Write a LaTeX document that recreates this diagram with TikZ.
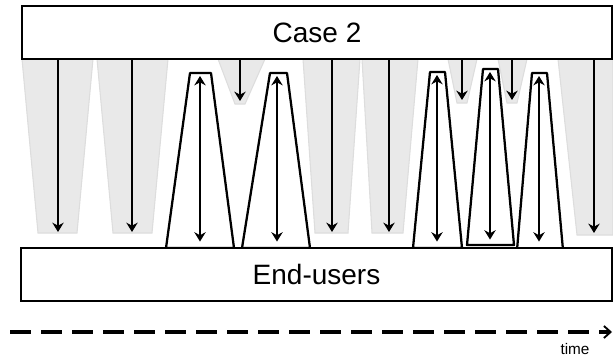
\documentclass[tikz,border=0pt]{standalone}
\usepackage{fontspec}
\setmainfont{Liberation Sans}
\usetikzlibrary{arrows.meta,backgrounds}

\begin{document}
\begin{tikzpicture}[x=0.75pt,y=-0.75pt,
        panel/.style={draw=black, fill=white, line width=1.7pt, inner sep=0pt,
            minimum height=39.75pt, font=\fontsize{21}{25}\selectfont},
        funnel/.style={fill=gray!17, draw=gray!27, line width=0.8pt},
        slot/.style={draw=black, fill=white, line width=1.7pt, line join=round},
        down/.style={-{Stealth[length=7pt,width=8.5pt]}, line width=1.4pt},
        both/.style={{Stealth[length=7pt,width=8.5pt]}-{Stealth[length=7pt,width=8.5pt]}, line width=1.4pt},
        axis/.style={line width=2.6pt, dash pattern=on 15.75pt off 7.5pt,
            -{Straight Barb[length=5pt,width=9pt,line width=1.4pt]}}]

    \useasboundingbox (0,0) rectangle (613,357);

    \node[panel, minimum width=442.5pt] (case) at (317,32.5) {Case 2};
    \node[panel, minimum width=443.25pt] (ends) at (316.5,274.5) {End-users};

    \begin{pgfonlayer}{background}
        % downward flows
        \filldraw[funnel] (22,59) -- (93,59) -- (77,233) -- (38,233) -- cycle;
        \filldraw[funnel] (97,59) -- (168,59) -- (152,233) -- (113,233) -- cycle;
        \filldraw[funnel] (218,59) -- (265,59) -- (245,104) -- (235,104) -- cycle;
        \filldraw[funnel] (303,59) -- (360,59) -- (348,233) -- (315,233) -- cycle;
        \filldraw[funnel] (362,59) -- (418,59) -- (403,233) -- (372,233) -- cycle;
        \filldraw[funnel] (448,59) -- (477,59) -- (467,103) -- (457,103) -- cycle;
        \filldraw[funnel] (498,59) -- (527,59) -- (517,103) -- (507,103) -- cycle;
        \filldraw[funnel] (558,59) -- (613,59) -- (613,235) -- (577,235) -- cycle;

        \coordinate (f1) at (58,232);
        \coordinate (f2) at (132,232);
        \coordinate (f3) at (240,101);
        \coordinate (f4) at (332,232);
        \coordinate (f5) at (389,232);
        \coordinate (f6) at (462,100);
        \coordinate (f7) at (512,100);
        \coordinate (f8) at (594,233);

        \draw[down] (case.south -| f1) -- (f1);
        \draw[down] (case.south -| f2) -- (f2);
        \draw[down] (case.south -| f3) -- (f3);
        \draw[down] (case.south -| f4) -- (f4);
        \draw[down] (case.south -| f5) -- (f5);
        \draw[down] (case.south -| f6) -- (f6);
        \draw[down] (case.south -| f7) -- (f7);
        \draw[down] (case.south -| f8) -- (f8);

        % two-way exchanges
        \draw[slot] (166,248) -- (190,73) -- (211,73) -- (234,248) -- cycle;
        \draw[slot] (242,248) -- (270,73) -- (287,73) -- (310,248) -- cycle;
        \draw[slot] (413,248) -- (430,72) -- (445,72) -- (462,248) -- cycle;
        \draw[slot] (467,245) -- (483,69) -- (498,69) -- (514,245) -- cycle;
        \draw[slot] (517,250) -- (532,73) -- (547,73) -- (563,250) -- cycle;

        \coordinate (u1) at (200,76);
        \coordinate (u2) at (277,76);
        \coordinate (u3) at (437,75);
        \coordinate (u4) at (490,72);
        \coordinate (u5) at (539,76);

        \draw[both] (u1) -- ([yshift=4pt]u1 |- ends.north);
        \draw[both] (u2) -- ([yshift=4pt]u2 |- ends.north);
        \draw[both] (u3) -- ([yshift=4pt]u3 |- ends.north);
        \draw[both] (u4) -- ([yshift=5.5pt]u4 |- ends.north);
        \draw[both] (u5) -- ([yshift=4pt]u5 |- ends.north);
    \end{pgfonlayer}

    % time axis
    \coordinate (t0) at (10,332);
    \coordinate (t1) at (612,332);
    \draw[axis] (t0) -- (t1);
    \node[font=\fontsize{11.5}{13}\selectfont] (time) at (575,349) {time};
\end{tikzpicture}
\end{document}
